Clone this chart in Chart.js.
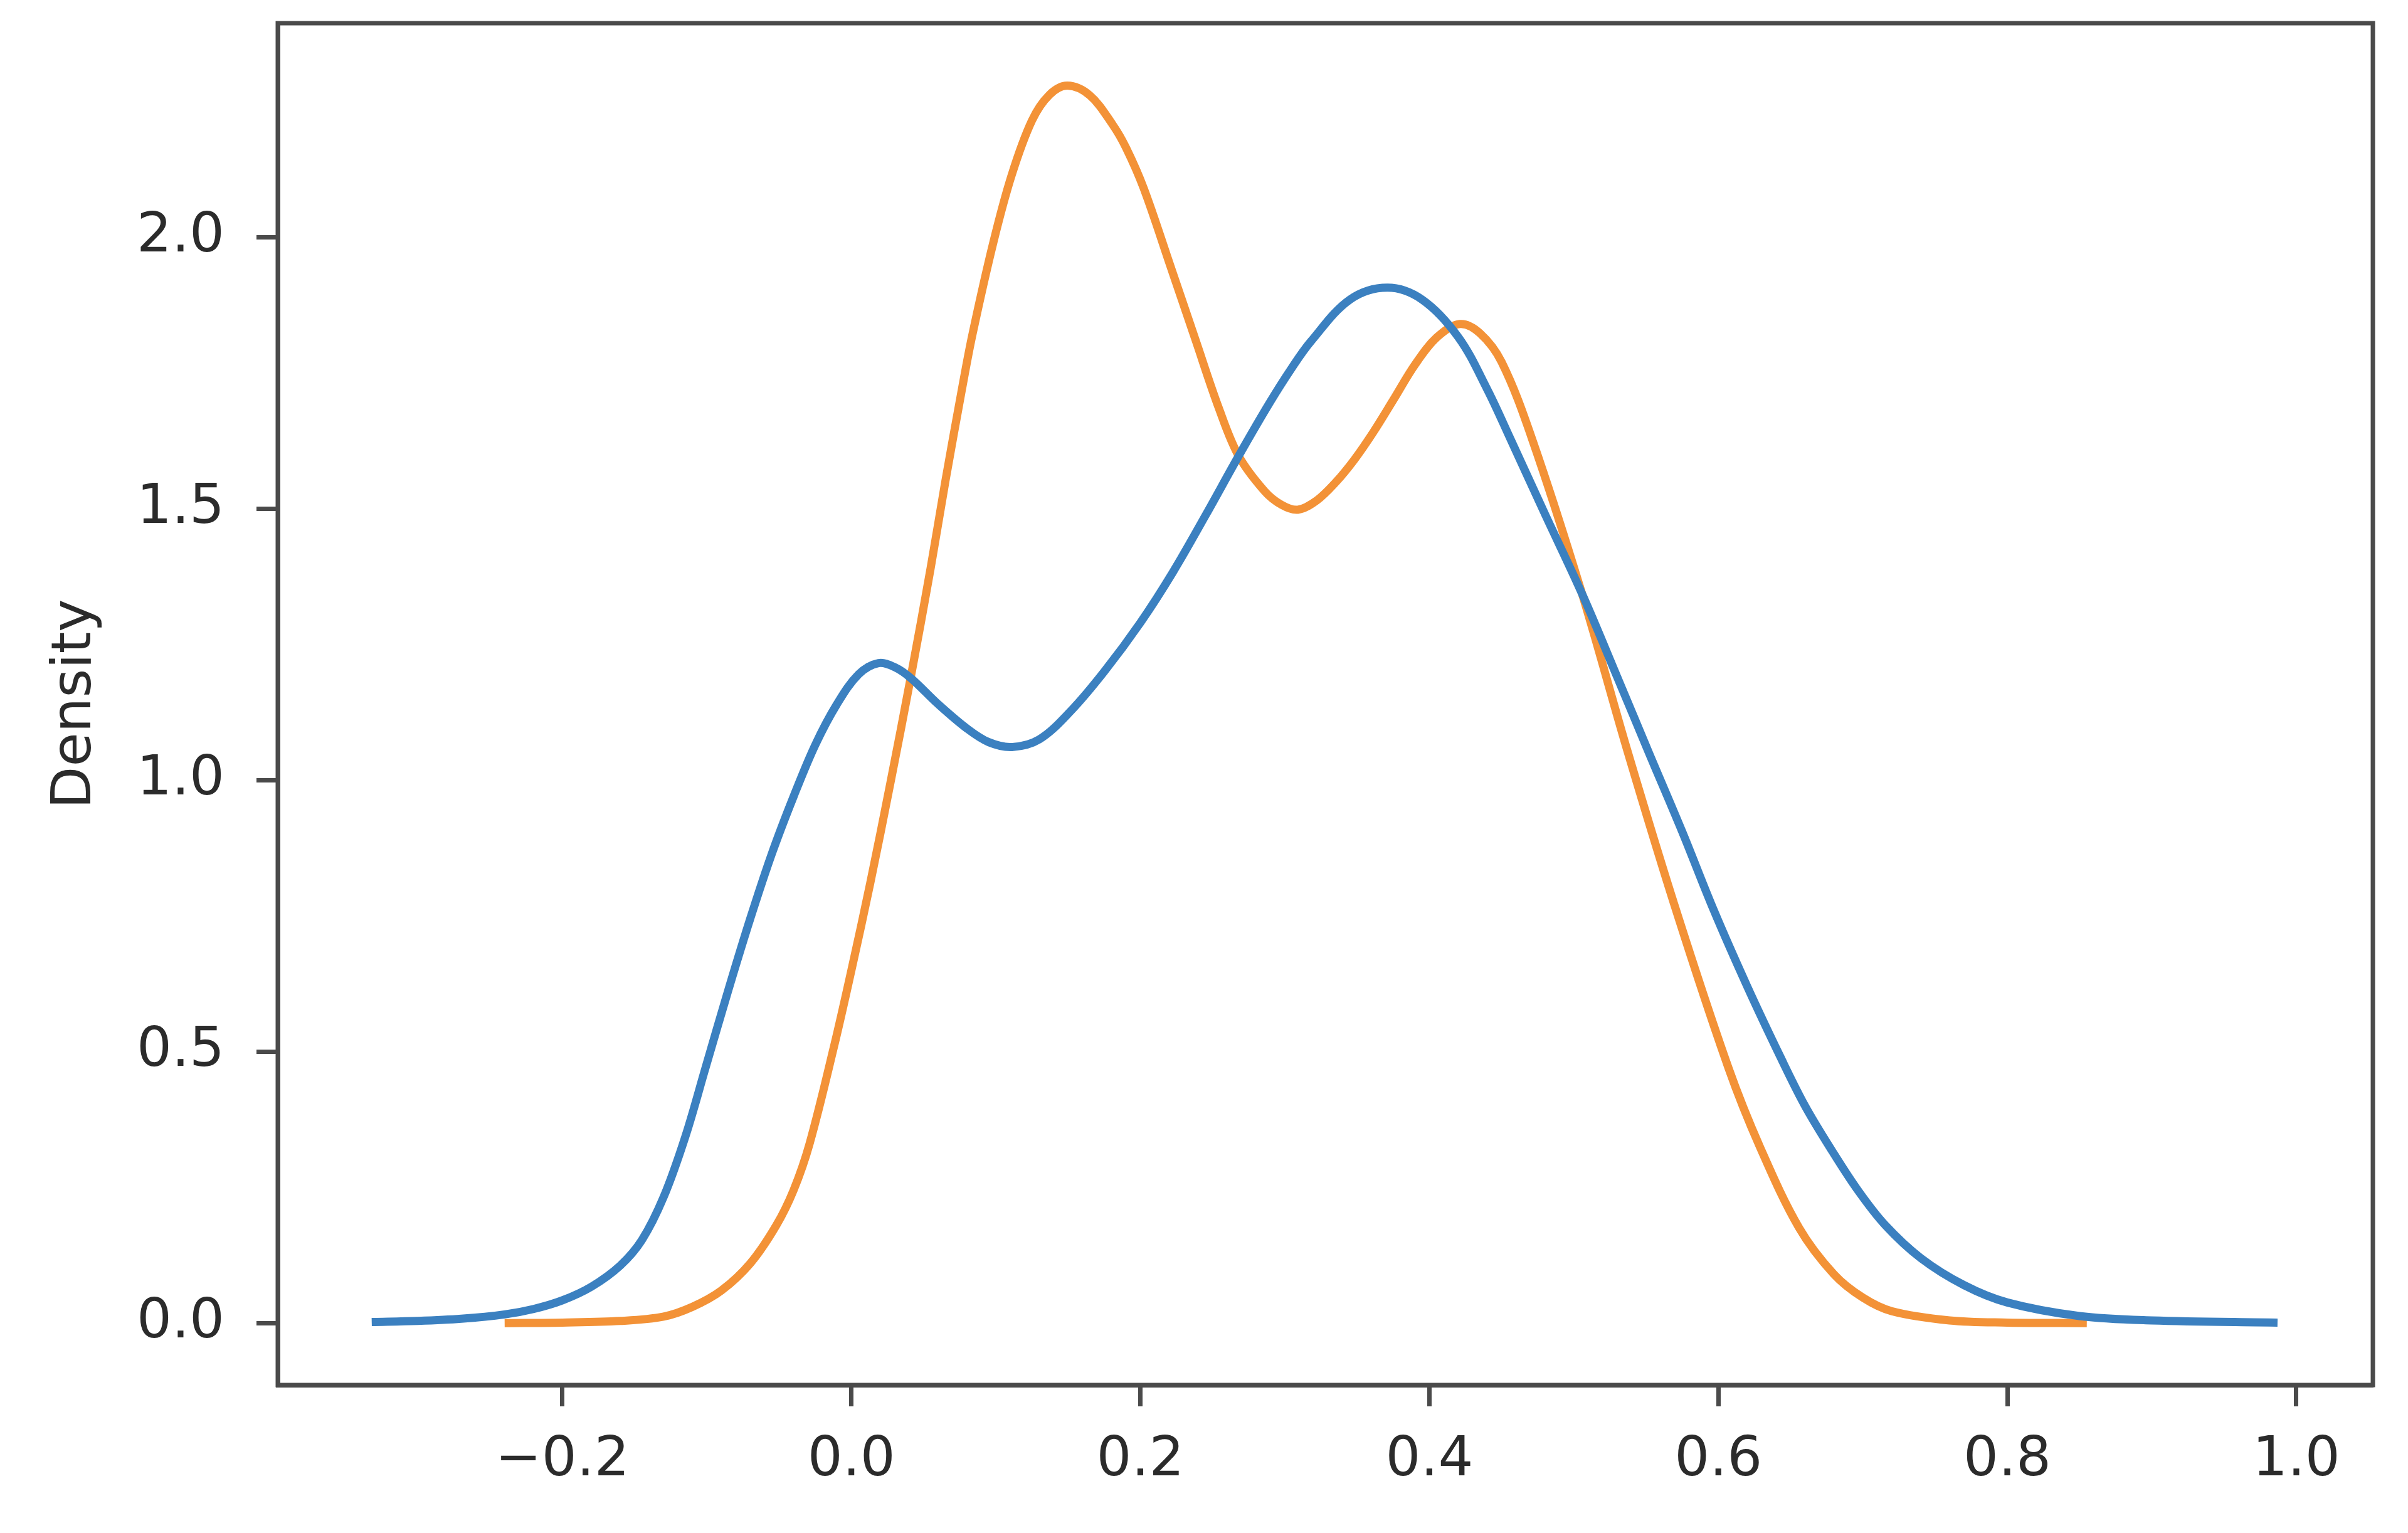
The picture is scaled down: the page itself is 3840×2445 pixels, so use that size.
<!DOCTYPE html>
<html>
<head>
<meta charset="utf-8">
<script src="https://cdn.jsdelivr.net/npm/chart.js@4.4.1/dist/chart.umd.min.js"></script>
<style>
  html, body { margin: 0; padding: 0; background: #fff; }
  #wrap { width: 3840px; height: 2445px; }
</style>
</head>
<body>
<div id="wrap"><canvas id="kde"></canvas></div>
<script>
// density curves (x, density)
var blueX = [-0.332, -0.30, -0.27, -0.24, -0.22, -0.20, -0.18, -0.16, -0.145, -0.13, -0.115, -0.101, -0.085, -0.07, -0.055, -0.04, -0.025, -0.01, 0.005, 0.0187, 0.03, 0.0411, 0.06, 0.08, 0.095, 0.1112, 0.13, 0.1517, 0.175, 0.2, 0.2225, 0.2456, 0.268, 0.289, 0.305, 0.318, 0.345, 0.371, 0.395, 0.42, 0.44, 0.456, 0.48, 0.5057, 0.53, 0.552, 0.575, 0.5969, 0.62, 0.643, 0.66, 0.679, 0.697, 0.7153, 0.74, 0.77, 0.80, 0.85, 0.9, 0.987];
var blueY = [0.002, 0.004, 0.008, 0.016, 0.026, 0.042, 0.067, 0.106, 0.153, 0.232, 0.343, 0.47, 0.615, 0.745, 0.865, 0.97, 1.065, 1.14, 1.195, 1.2155, 1.208, 1.188, 1.14, 1.095, 1.07, 1.061, 1.075, 1.127, 1.2, 1.29, 1.383, 1.49, 1.597, 1.693, 1.76, 1.808, 1.885, 1.907, 1.885, 1.816, 1.72, 1.629, 1.49, 1.343, 1.19, 1.05, 0.905, 0.76, 0.62, 0.49, 0.40, 0.316, 0.243, 0.181, 0.12, 0.07, 0.038, 0.013, 0.005, 0.001];

var orangeX = [-0.24, -0.20, -0.16, -0.13, -0.11, -0.09, -0.07, -0.052, -0.04, -0.029, -0.012, 0.0, 0.013, 0.027, 0.0411, 0.0548, 0.065, 0.0765, 0.0837, 0.0982, 0.111, 0.125, 0.137, 0.1495, 0.165, 0.1806, 0.19, 0.2023, 0.221, 0.238, 0.2543, 0.268, 0.286, 0.2977, 0.309, 0.322, 0.335, 0.348, 0.361, 0.375, 0.39, 0.405, 0.421, 0.435, 0.45, 0.471, 0.5057, 0.5375, 0.5708, 0.607, 0.6287, 0.656, 0.68, 0.70, 0.72, 0.76, 0.80, 0.855];
var orangeY = [0.0, 0.001, 0.004, 0.012, 0.03, 0.06, 0.11, 0.18, 0.245, 0.33, 0.51, 0.65, 0.81, 0.995, 1.19, 1.39, 1.55, 1.72, 1.82, 1.99, 2.115, 2.215, 2.262, 2.279, 2.261, 2.208, 2.165, 2.09, 1.945, 1.812, 1.685, 1.597, 1.532, 1.507, 1.498, 1.515, 1.548, 1.59, 1.64, 1.70, 1.765, 1.815, 1.84, 1.823, 1.77, 1.629, 1.343, 1.05, 0.76, 0.47, 0.325, 0.175, 0.09, 0.047, 0.022, 0.005, 0.001, 0.0];

var xTicks = [-0.2, 0.0, 0.2, 0.4, 0.6, 0.8, 1.0];
var yTicks = [0.0, 0.5, 1.0, 1.5, 2.0];

function pairs(xs, ys) {
	return xs.map(function (x, i) { return {x: x, y: ys[i]}; });
}
function fmt(v) {
	return v.toFixed(1).replace('-', '\u2212');
}

// matplotlib style box around the axes
var frame = {
	id: 'frame',
	afterDraw: function (chart) {
		var a = chart.chartArea, ctx = chart.ctx;
		ctx.save();
		ctx.strokeStyle = '#4a4a4a';
		ctx.lineWidth = 7;
		ctx.strokeRect(a.left, a.top, a.right - a.left, a.bottom - a.top);
		ctx.restore();
	}
};

var font = {family: '"DejaVu Sans", sans-serif', size: 88};

new Chart(document.getElementById('kde'), {
	type: 'line',
	data: {
		datasets: [{
			data: pairs(blueX, blueY),
			borderColor: '#3b80c0',
			borderWidth: 13,
			pointRadius: 0,
			fill: false,
			tension: 0.35
		}, {
			data: pairs(orangeX, orangeY),
			borderColor: '#f39237',
			borderWidth: 13,
			pointRadius: 0,
			fill: false,
			tension: 0.35
		}]
	},
	options: {
		responsive: true,
		maintainAspectRatio: false,
		devicePixelRatio: 1,
		animation: false,
		layout: {padding: {left: 0, top: 37, right: 56, bottom: 0}},
		plugins: {legend: {display: false}, tooltip: {enabled: false}},
		scales: {
			x: {
				type: 'linear',
				min: -0.397,
				max: 1.053,
				afterFit: function (s) { s.height = 236; s.paddingLeft = 0; s.paddingRight = 0; },
				afterBuildTicks: function (s) { s.ticks = xTicks.map(function (v) { return {value: v}; }); },
				ticks: {callback: fmt, font: font, color: '#2b2b2b', padding: 34, maxRotation: 0, autoSkip: false},
				grid: {drawOnChartArea: false, drawTicks: true, tickLength: 34, tickWidth: 7, tickColor: '#4a4a4a'},
				border: {display: true, color: '#4a4a4a', width: 7}
			},
			y: {
				min: -0.114,
				max: 2.394,
				afterFit: function (s) { s.width = 443; s.paddingTop = 0; s.paddingBottom = 0; },
				afterBuildTicks: function (s) { s.ticks = yTicks.map(function (v) { return {value: v}; }); },
				ticks: {callback: fmt, font: font, color: '#2b2b2b', padding: 51, autoSkip: false},
				grid: {drawOnChartArea: false, drawTicks: true, tickLength: 34, tickWidth: 7, tickColor: '#4a4a4a'},
				border: {display: true, color: '#4a4a4a', width: 7},
				title: {display: true, text: 'Density', font: font, color: '#2b2b2b', padding: {top: 68, bottom: 0}}
			}
		}
	},
	plugins: [frame]
});
</script>
</body>
</html>
